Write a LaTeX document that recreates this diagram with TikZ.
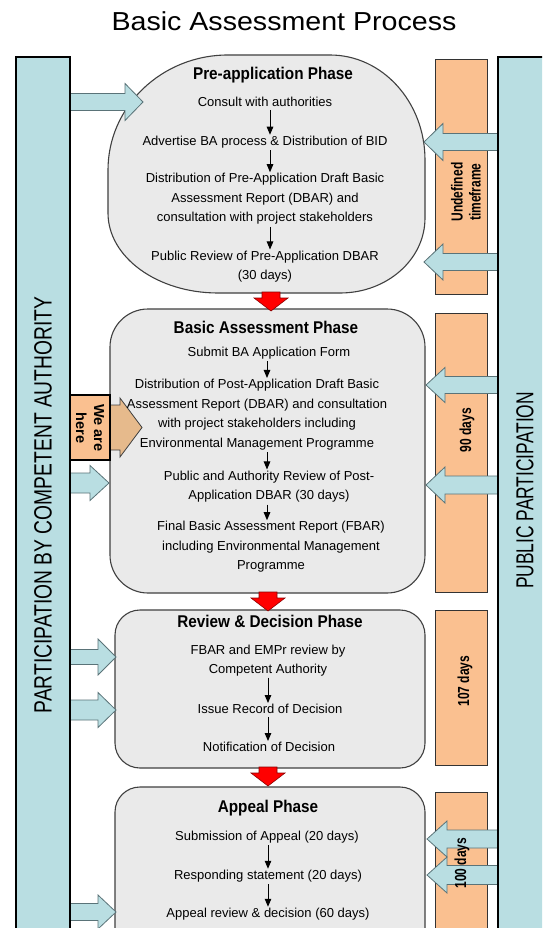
\documentclass[tikz,border=0pt]{standalone}
\usepackage{fontspec}
\usepackage{graphicx}
\setmainfont{Liberation Sans}
\newfontfamily\condfont{Liberation Sans}[FakeStretch=0.75]
\newfontfamily\bigcond{Liberation Sans}[FakeStretch=0.77]
\newfontfamily\rightcond{Liberation Sans}[FakeStretch=0.71]
\newfontfamily\phasefont{Liberation Sans}[FakeStretch=0.9]
\newfontfamily\titlefont{Liberation Sans}[FakeStretch=1.1]
\usetikzlibrary{arrows.meta,calc}
\definecolor{lblue}{RGB}{185,222,226}
\definecolor{lorange}{RGB}{250,192,144}
\definecolor{tanc}{RGB}{230,186,140}
\definecolor{phasegray}{RGB}{234,234,234}
\definecolor{edgegray}{RGB}{64,64,64}
\definecolor{arrowedge}{RGB}{90,115,120}
\tikzset{
 barfill/.style={fill=lblue},
 barline/.style={draw=black, line width=1.2pt},
 obar/.style={fill=lorange, draw=black!80, line width=0.9pt},
 phase/.style={fill=phasegray, draw=edgegray, line width=1.1pt},
 blk/.style={fill=lblue, draw=arrowedge, line width=0.8pt},
 redarr/.style={fill=red, draw=red!55!black, line width=0.6pt},
 txt/.style={font=\fontsize{13}{19.5}\selectfont, align=center, inner sep=0pt},
 ttl/.style={font=\phasefont\bfseries\fontsize{17}{20}\selectfont, inner sep=0pt},
 stp/.style={-{Triangle[width=6.5pt,length=8pt]}, line width=1pt, black},
 olbl/.style={font=\condfont\bfseries\fontsize{16}{18}\selectfont, align=center, rotate=90, inner sep=0pt},
 bigl/.style={font=\bigcond\fontsize{25}{25}\selectfont, rotate=90, inner sep=0pt},
 bigr/.style={font=\rightcond\fontsize{24.5}{25}\selectfont, rotate=90, inner sep=0pt},
}
% block arrow: x0, head base x, tip x, centre y, shaft half, head half
\newcommand{\blkArr}[6]{%
 \filldraw[blk] (#1,-#4+#5) -- (#2,-#4+#5) -- (#2,-#4+#6) -- (#3,-#4) -- (#2,-#4-#6) -- (#2,-#4-#5) -- (#1,-#4-#5);}
% red down arrow: tip x, top y
\newcommand{\redArr}[2]{%
 \filldraw[redarr] (#1-9,-#2) -- (#1+9,-#2) -- (#1+9,-#2-6) -- (#1+17,-#2-6) -- (#1,-#2-19) -- (#1-17,-#2-6) -- (#1-9,-#2-6) -- cycle;}
\begin{document}
\begin{tikzpicture}[x=1pt,y=1pt]
\useasboundingbox (0,0) rectangle (542,-928);
\clip (0,0) rectangle (542,-928);
\fill[white] (0,0) rectangle (542,-928);

% title
\node[font=\titlefont\fontsize{26}{28}\selectfont, inner sep=0pt] (title) at (284,-21) {Basic Assessment Process};

% side bars (fill)
\fill[barfill] (16,-57) rectangle (70,-940);
\fill[barfill] (498,-57) rectangle (560,-940);

% orange time bars
\draw[obar] (435,-59) rectangle (487,-294);
\draw[obar] (435,-313) rectangle (487,-592);
\draw[obar] (435,-610) rectangle (487,-765);
\draw[obar] (435,-792) rectangle (487,-940);

% phases
\draw[phase] (108,-170) -- (108,-213)
  arc[start angle=180, end angle=270, x radius=110, y radius=80] -- (340,-293)
  arc[start angle=270, end angle=360, x radius=85, y radius=75] -- (425,-160)
  arc[start angle=0, end angle=90, x radius=95, y radius=105] -- (228,-55)
  arc[start angle=90, end angle=180, x radius=120, y radius=115] -- cycle;
\draw[phase, rounded corners=38pt] (110,-309) rectangle (425,-593);
\draw[phase, rounded corners=25pt] (115,-610) rectangle (425,-768);
\draw[phase, rounded corners=25pt] (115,-787) rectangle (425,-960);

% red arrows between phases
\redArr{271}{292}
\redArr{268}{592}
\redArr{268}{767}

% left block arrows
\blkArr{70}{125}{143}{102}{8.5}{18.5}
\blkArr{70}{90}{109}{483}{10}{17.5}
\blkArr{70}{98}{116}{657}{7.5}{18}
\blkArr{70}{98}{116}{710}{10}{17.5}
\blkArr{70}{98}{116}{912}{8.5}{17}

% right block arrows
\blkArr{498}{443}{424}{142}{8.5}{18.5}
\blkArr{498}{443}{424}{262}{8.5}{18}
\blkArr{498}{445}{426}{385}{8.5}{17.5}
\blkArr{498}{445}{426}{485}{9}{18}
\blkArr{498}{447}{427}{839}{9}{18}
\blkArr{498}{447}{427}{875}{9.5}{18}

% "We are here" marker
\filldraw[fill=tanc, draw=black!75, line width=0.8pt] (110,-405) -- (120,-405) -- (120,-398) -- (142,-427.5) -- (120,-457) -- (120,-450) -- (110,-450);
\draw[fill=lorange, draw=black, line width=1.3pt] (70,-395) rectangle (110,-460);
\node[font=\bfseries\fontsize{14.5}{18}\selectfont, align=center, rotate=-90, inner sep=0pt] (wah) at (90,-428) {We are\\here};

% bar outlines on top
\draw[barline] (16,-57) rectangle (70,-940);
\draw[barline] (498,-57) rectangle (560,-940);

% bar labels
\node[bigl] (lpart) at (43,-505) {PARTICIPATION BY COMPETENT AUTHORITY};
\node[bigr] (rpart) at (525,-490.5) {PUBLIC PARTICIPATION};

% orange bar labels
\node[olbl] (o1) at (466,-192) {Undefined\\timeframe};
\node[olbl] (o2) at (467,-430) {90 days};
\node[olbl] (o3) at (465,-681) {107 days};
\node[olbl] (o4) at (462,-863) {100 days};

% arrow axes
\coordinate (ax1) at (270,0);
\coordinate (ax2) at (267,0);
\coordinate (ax3) at (268,0);

% Pre-application phase
\node[ttl] (p0) at (273,-75) {Pre-application Phase};
\node[txt] (p1) at (265,-102) {Consult with authorities};
\node[txt] (p2) at (265,-142) {Advertise BA process \& Distribution of BID};
\node[txt] (p3) at (265,-199) {Distribution of Pre-Application Draft Basic\\Assessment Report (DBAR) and\\consultation with project stakeholders};
\node[txt] (p4) at (265,-266.5) {Public Review of Pre-Application DBAR\\(30 days)};
\draw[stp] ($(p1.south -| ax1)+(0,-3)$) -- ($(p2.north -| ax1)+(0,1)$);
\draw[stp] ($(p2.south -| ax1)+(0,-2)$) -- ($(p3.north -| ax1)+(0,1)$);
\draw[stp] ($(p3.south -| ax1)+(0,-2)$) -- ($(p4.north -| ax1)+(0,1)$);

% Basic Assessment phase
\node[ttl] (b0) at (266,-327) {Basic Assessment Phase};
\node[txt] (b1) at (269,-353) {Submit BA Application Form};
\node[txt] (b2) at (257,-414.5) {Distribution of Post-Application Draft Basic\\Assessment Report (DBAR) and consultation\\with project stakeholders including\\Environmental Management Programme};
\node[txt] (b3) at (269,-486.5) {Public and Authority Review of Post-\\Application DBAR (30 days)};
\node[txt] (b4) at (271,-547) {Final Basic Assessment Report (FBAR)\\including Environmental Management\\Programme};
\draw[stp] ($(b1.south -| ax2)+(0,-2)$) -- ($(b2.north -| ax2)+(0,1)$);
\draw[stp] ($(b2.south -| ax2)+(0,-2)$) -- ($(b3.north -| ax2)+(0,1)$);
\draw[stp] ($(b3.south -| ax2)+(0,-2)$) -- ($(b4.north -| ax2)+(0,1)$);

% Review & Decision phase
\node[ttl] (r0) at (270,-621) {Review \& Decision Phase};
\node[txt] (r1) at (268,-660.5) {FBAR and EMPr review by\\Competent Authority};
\node[txt] (r2) at (270,-709) {Issue Record of Decision};
\node[txt] (r3) at (269,-747) {Notification of Decision};
\draw[stp] ($(r1.south -| ax3)+(0,-1)$) -- ($(r2.north -| ax3)+(0,1)$);
\draw[stp] ($(r2.south -| ax3)+(0,-3)$) -- ($(r3.north -| ax3)+(0,1)$);

% Appeal phase
\node[ttl] (a0) at (268,-808) {Appeal Phase};
\node[txt] (a1) at (267,-837) {Submission of Appeal (20 days)};
\node[txt] (a2) at (268,-876) {Responding statement (20 days)};
\node[txt] (a3) at (268,-914) {Appeal review \& decision (60 days)};
\draw[stp] ($(a1.south -| ax3)+(0,-2)$) -- ($(a2.north -| ax3)+(0,1)$);
\draw[stp] ($(a2.south -| ax3)+(0,-2)$) -- ($(a3.north -| ax3)+(0,1)$);
\end{tikzpicture}
\end{document}
